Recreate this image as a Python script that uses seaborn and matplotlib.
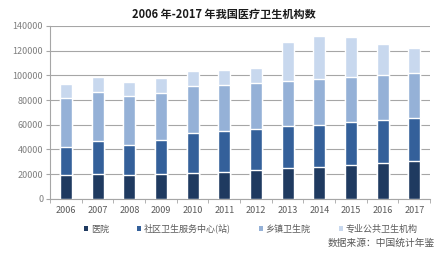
import matplotlib
matplotlib.use("Agg")
import matplotlib.pyplot as plt
import seaborn as sns
import pandas as pd
import numpy as np
from matplotlib.patches import Patch

years = ["2006", "2007", "2008", "2009", "2010", "2011",
         "2012", "2013", "2014", "2015", "2016", "2017"]
hospital = [19246, 19852, 19712, 20291, 20918, 21979, 23170, 24709, 25860, 27587, 29140, 31056]
community = [22656, 27069, 24260, 27308, 32739, 32860, 33562, 33965, 34238, 34321, 34327, 34652]
township = [39975, 39876, 39080, 38475, 37836, 37295, 37097, 37015, 36902, 36817, 36795, 36551]
public_health = [11269, 11528, 11485, 11665, 11835, 11926, 12083, 31155, 35029, 31927, 24866, 19896]

labels = ["医院", "社区卫生服务中心(站)", "乡镇卫生院", "专业公共卫生机构"]
colors = ["#1f3a60", "#34609a", "#95b1d7", "#c8d8ee"]

sns.set_style("white")
plt.rcParams["font.family"] = ["Noto Sans CJK SC", "DejaVu Sans"]

df = pd.DataFrame({"year": years, "s1": hospital, "s2": community,
                   "s3": township, "s4": public_health})
# cumulative heights, drawn from the tallest down so they stack visually
df["c1"] = df["s1"]
df["c2"] = df["c1"] + df["s2"]
df["c3"] = df["c2"] + df["s3"]
df["c4"] = df["c3"] + df["s4"]

fig = plt.figure(figsize=(4.48, 2.54), dpi=100)
ax = fig.add_axes([0.112, 0.217, 0.848, 0.681])

for col, c in zip(["c4", "c3", "c2", "c1"], colors[::-1]):
    sns.barplot(data=df, x="year", y=col, color=c, width=0.38,
                saturation=1, ax=ax, zorder=3)

ax.set_ylim(0, 140000)
ax.set_xlim(-0.5, 11.5)
ax.set_yticks(np.arange(0, 140001, 20000))
ax.yaxis.grid(True, color="#a6a6a6", linewidth=0.8, zorder=0)
ax.set_xlabel("")
ax.set_ylabel("")
for s in ["top", "right"]:
    ax.spines[s].set_visible(False)
for s in ["left", "bottom"]:
    ax.spines[s].set_color("#a6a6a6")
    ax.spines[s].set_linewidth(0.8)
ax.tick_params(axis="y", labelsize=6.5, labelcolor="#7f7f7f", length=3,
               color="#a6a6a6", left=True, pad=2)
ax.tick_params(axis="x", labelsize=6.5, labelcolor="#595959", length=0, pad=5)
ax.set_xticks(np.arange(-0.5, 12, 1), minor=True)
ax.tick_params(axis="x", which="minor", length=3, color="#a6a6a6", bottom=True)

fig.text(0.5, 0.945, "2006 年-2017 年我国医疗卫生机构数", ha="center", va="center",
         fontsize=8, fontweight="bold", color="#1a1a1a")

handles = [Patch(facecolor=c, edgecolor="none") for c in colors]
fig.legend(handles, labels, loc="center", bbox_to_anchor=(0.56, 0.10), ncol=4,
           frameon=False, fontsize=6.5, handlelength=0.45, handleheight=0.45,
           handletextpad=0.3, columnspacing=3.1, labelcolor="#595959")

fig.text(0.97, 0.043, "数据来源：中国统计年鉴", ha="right", va="center",
         fontsize=7, color="#595959")

fig.savefig("out.png", dpi=100)
